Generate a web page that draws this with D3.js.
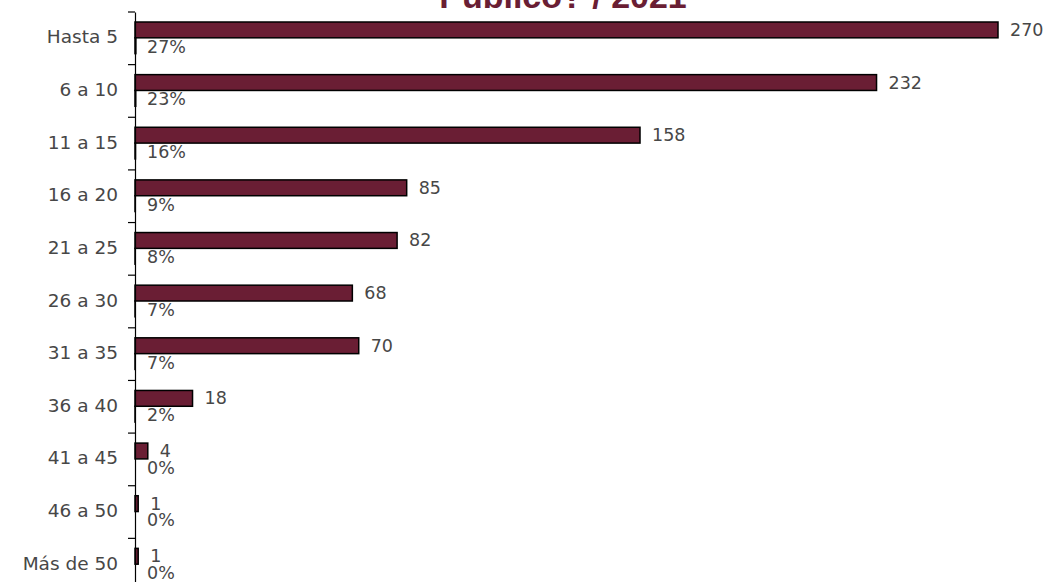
<!DOCTYPE html>
<html><head><meta charset="utf-8">
<script src="https://cdn.jsdelivr.net/npm/d3@7"></script>
<style>body{margin:0;background:#fff;} svg{display:block;}</style>
</head><body>
<svg id="c" width="1048" height="582"></svg>
<script>
const categories = ["Hasta 5","6 a 10","11 a 15","16 a 20","21 a 25","26 a 30","31 a 35","36 a 40","41 a 45","46 a 50","Más de 50"];
const counts = [270,232,158,85,82,68,70,18,4,1,1];
const percents = [27,23,16,9,8,7,7,2,0,0,0];
const title = "Público? / 2021";

const svg = d3.select("#c");
const font = "'DejaVu Sans', sans-serif";
const barColor = "#6a1e34";
const textColor = "#474747";

const x = d3.scaleLinear().domain([0, 270]).range([135, 998]);
const y = d3.scaleBand().domain(categories).range([12, 591]).paddingInner(0).paddingOuter(0);
const sub = d3.scaleBand().domain(["n","p"]).range([10, y.bandwidth()-11]).padding(0);

svg.append("text").attr("x", 563).attr("y", 8).attr("text-anchor","middle")
  .attr("font-family", "'Liberation Sans', sans-serif").attr("font-weight","bold").attr("font-size", 34)
  .attr("fill", barColor).text(title);

const g = svg.selectAll("g.cat").data(categories).join("g").attr("class","cat")
  .attr("transform", d => `translate(0,${y(d)})`);

g.append("rect").attr("x", x(0)).attr("y", sub("n"))
  .attr("width", (d,i) => x(counts[i]) - x(0)).attr("height", sub.bandwidth())
  .attr("fill", barColor).attr("stroke", "#000").attr("stroke-width", 1.5);

g.append("rect").attr("x", x(0)).attr("y", sub("p"))
  .attr("width", (d,i) => x(percents[i]/100) - x(0)).attr("height", sub.bandwidth())
  .attr("fill", barColor).attr("stroke", "#000").attr("stroke-width", 1.5);

const txt = sel => sel.attr("font-family", font).attr("font-size", 17.5)
  .attr("fill", textColor).attr("dominant-baseline","central");

g.append("text").attr("x", (d,i) => x(counts[i]) + 12).attr("y", sub("n") + sub.bandwidth()/2)
  .call(txt).text((d,i) => counts[i]);

g.append("text").attr("x", x(0) + 12).attr("y", sub("p") + sub.bandwidth()/2 + 1)
  .call(txt).text((d,i) => percents[i] + "%");

const axis = svg.append("g").attr("transform", `translate(${x(0)},0)`)
  .call(d3.axisLeft(y).tickSize(0).tickPadding(17));
axis.select(".domain").attr("stroke","#000").attr("stroke-width",1.2);
axis.selectAll("text").call(txt).attr("dy", "-0.08em").attr("font-size", 18.5);
const bounds = categories.map(c => y(c)).concat([y.range()[1]]);
axis.selectAll("line.bt").data(bounds).join("line").attr("class","bt")
  .attr("x1", -7).attr("x2", 0).attr("y1", d => d).attr("y2", d => d)
  .attr("stroke","#000").attr("stroke-width",1.2);
</script>
</body></html>
